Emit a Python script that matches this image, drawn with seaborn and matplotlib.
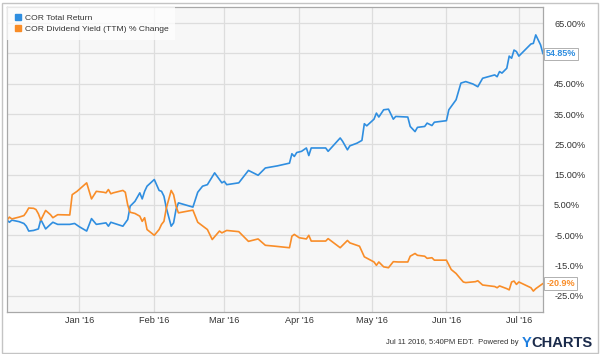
import pandas as pd
import matplotlib
matplotlib.use("Agg")
import matplotlib.pyplot as plt
from matplotlib.lines import Line2D
from matplotlib.patches import Rectangle
import seaborn as sns

# COR Total Return (%)
return_dates = [
    "2015-12-02", "2015-12-03", "2015-12-04", "2015-12-07", "2015-12-09", "2015-12-10",
    "2015-12-11", "2015-12-13", "2015-12-15", "2015-12-16", "2015-12-18", "2015-12-20",
    "2015-12-21", "2015-12-23", "2015-12-28", "2015-12-30", "2016-01-01", "2016-01-04",
    "2016-01-06", "2016-01-08", "2016-01-12", "2016-01-13", "2016-01-14", "2016-01-19",
    "2016-01-21", "2016-01-22", "2016-01-24", "2016-01-26", "2016-01-27", "2016-01-28",
    "2016-01-29", "2016-02-01", "2016-02-03", "2016-02-04", "2016-02-05", "2016-02-06",
    "2016-02-08", "2016-02-09", "2016-02-10", "2016-02-11", "2016-02-17", "2016-02-19",
    "2016-02-21", "2016-02-23", "2016-02-26", "2016-02-29", "2016-03-01", "2016-03-02",
    "2016-03-07", "2016-03-11", "2016-03-15", "2016-03-18", "2016-03-23", "2016-03-28",
    "2016-03-29", "2016-03-30", "2016-03-31", "2016-04-02", "2016-04-04", "2016-04-05",
    "2016-04-06", "2016-04-12", "2016-04-13", "2016-04-18", "2016-04-19", "2016-04-21",
    "2016-04-22", "2016-04-25", "2016-04-27", "2016-04-28", "2016-04-29", "2016-05-02",
    "2016-05-03", "2016-05-04", "2016-05-06", "2016-05-08", "2016-05-10", "2016-05-11",
    "2016-05-16", "2016-05-17", "2016-05-19", "2016-05-20", "2016-05-23", "2016-05-24",
    "2016-05-26", "2016-05-27", "2016-06-01", "2016-06-02", "2016-06-05", "2016-06-07",
    "2016-06-09", "2016-06-12", "2016-06-14", "2016-06-16", "2016-06-21", "2016-06-22",
    "2016-06-23", "2016-06-24", "2016-06-26", "2016-06-27", "2016-06-28", "2016-06-29",
    "2016-06-30", "2016-07-01", "2016-07-06", "2016-07-07", "2016-07-08", "2016-07-10",
    "2016-07-11",
]
return_pct = [
    0.0, -0.7, 0.0, -0.5, -1.1, -2.0,
    -3.6, -3.4, -2.9, 0.2, -2.9, -1.4,
    -0.7, -1.4, -1.4, -1.1, -2.2, -3.6,
    0.5, -1.4, -0.9, -2.0, -0.7, -2.0,
    0.2, 4.6, 6.2, 9.0, 7.0, 9.5,
    11.2, 13.4, 9.8, 9.5, 7.9, 4.0,
    -2.0, -0.9, 3.5, 5.7, 4.3, 9.2,
    11.2, 11.7, 15.6, 12.3, 12.8, 11.7,
    12.3, 16.4, 14.8, 17.2, 17.9, 18.8,
    21.9, 21.0, 22.3, 22.7, 23.8, 21.3,
    23.8, 23.8, 22.7, 27.1, 26.0, 23.2,
    24.5, 25.4, 26.3, 31.8, 31.1, 33.3,
    35.3, 34.0, 36.4, 36.6, 33.3, 34.2,
    34.0, 30.9, 29.2, 30.6, 30.9, 32.0,
    31.2, 32.3, 32.8, 36.4, 39.7, 45.2,
    45.7, 44.9, 44.0, 46.8, 47.9, 47.3,
    49.0, 48.5, 50.1, 54.1, 53.4, 56.1,
    55.6, 54.1, 58.1, 58.3, 61.1, 57.8,
    54.85,
]

# COR Dividend Yield (TTM) % Change
yield_dates = [
    "2015-12-02", "2015-12-03", "2015-12-04", "2015-12-07", "2015-12-09", "2015-12-10",
    "2015-12-11", "2015-12-13", "2015-12-14", "2015-12-15", "2015-12-16", "2015-12-18",
    "2015-12-20", "2015-12-21", "2015-12-23", "2015-12-28", "2015-12-29", "2015-12-31",
    "2016-01-04", "2016-01-06", "2016-01-08", "2016-01-11", "2016-01-12", "2016-01-13",
    "2016-01-14", "2016-01-15", "2016-01-19", "2016-01-20", "2016-01-21", "2016-01-22",
    "2016-01-24", "2016-01-26", "2016-01-27", "2016-01-28", "2016-01-29", "2016-02-01",
    "2016-02-03", "2016-02-04", "2016-02-05", "2016-02-06", "2016-02-08", "2016-02-09",
    "2016-02-10", "2016-02-11", "2016-02-17", "2016-02-19", "2016-02-23", "2016-02-25",
    "2016-02-28", "2016-02-29", "2016-03-02", "2016-03-07", "2016-03-11", "2016-03-15",
    "2016-03-18", "2016-03-22", "2016-03-28", "2016-03-29", "2016-03-30", "2016-04-01",
    "2016-04-04", "2016-04-05", "2016-04-06", "2016-04-12", "2016-04-13", "2016-04-18",
    "2016-04-21", "2016-04-22", "2016-04-26", "2016-04-28", "2016-05-02", "2016-05-03",
    "2016-05-04", "2016-05-06", "2016-05-08", "2016-05-10", "2016-05-12", "2016-05-16",
    "2016-05-17", "2016-05-19", "2016-05-20", "2016-05-23", "2016-05-24", "2016-05-26",
    "2016-05-27", "2016-06-01", "2016-06-03", "2016-06-05", "2016-06-07", "2016-06-08",
    "2016-06-09", "2016-06-13", "2016-06-14", "2016-06-16", "2016-06-21", "2016-06-22",
    "2016-06-23", "2016-06-26", "2016-06-27", "2016-06-28", "2016-06-29", "2016-06-30",
    "2016-07-01", "2016-07-06", "2016-07-07", "2016-07-08", "2016-07-11",
]
yield_pct = [
    0.0, 1.0, 0.4, 1.0, 1.5, 2.6,
    4.0, 3.9, 3.5, 2.1, 0.0, 3.2,
    1.8, 0.8, 1.8, 1.7, 8.4, 9.5,
    12.3, 7.0, 9.5, 9.2, 9.0, 10.1,
    8.7, 9.0, 9.8, 9.2, 5.0, 2.6,
    2.2, 1.3, -0.4, 0.8, -3.1, -5.0,
    -3.1, -1.4, -0.4, 4.0, 9.8, 8.4,
    4.6, 2.4, 3.3, -0.7, -3.1, -6.4,
    -3.6, -4.2, -3.4, -3.8, -7.0, -6.2,
    -8.3, -8.6, -9.1, -5.3, -4.7, -5.8,
    -6.2, -5.0, -6.9, -6.9, -6.1, -9.1,
    -6.7, -7.5, -8.6, -12.1, -13.8, -14.9,
    -13.8, -15.4, -15.7, -13.7, -13.8, -13.8,
    -11.9, -11.0, -11.6, -11.9, -12.6, -12.4,
    -13.2, -13.2, -16.3, -17.6, -19.5, -20.4,
    -20.6, -20.3, -20.0, -21.4, -21.9, -22.3,
    -21.7, -22.6, -23.0, -20.4, -20.1, -21.2,
    -20.4, -22.3, -23.4, -22.6, -20.9,
]

series_names = ["COR Total Return", "COR Dividend Yield (TTM) % Change"]
y_ticks = [-25, -15, -5, 5, 15, 25, 35, 45, 55, 65]
y_labels = ["-25.0%", "-15.0%", "-5.00%", "5.00%", "15.00%", "25.00%",
            "35.00%", "45.00%", "", "65.00%"]
month_ticks = ["2016-01-01", "2016-02-01", "2016-03-01", "2016-04-01",
               "2016-05-01", "2016-06-01", "2016-07-01"]
month_labels = ["Jan '16", "Feb '16", "Mar '16", "Apr '16", "May '16", "Jun '16", "Jul '16"]

BLUE = "#2f8ee0"
ORANGE = "#f98d28"

df = pd.concat([
    pd.DataFrame({"date": pd.to_datetime(return_dates), "value": return_pct,
                  "series": series_names[0]}),
    pd.DataFrame({"date": pd.to_datetime(yield_dates), "value": yield_pct,
                  "series": series_names[1]}),
], ignore_index=True)

sns.set_style("whitegrid", {"axes.facecolor": "#f7f7f7", "grid.color": "#dddddd",
                            "axes.edgecolor": "#a8a8a8"})
plt.rcParams["font.family"] = ["Liberation Sans", "DejaVu Sans"]

fig = plt.figure(figsize=(6, 3.54), dpi=100)
ax = fig.add_axes([7 / 600, 1 - 312 / 354, 536 / 600, 305 / 354])

sns.lineplot(data=df, x="date", y="value", hue="series",
             palette={series_names[0]: BLUE, series_names[1]: ORANGE},
             estimator=None, sort=False, linewidth=1.2, legend=False, ax=ax)

ax.set_xlim(df["date"].min(), df["date"].max())
ax.set_ylim(-30.3, 70.3)
ax.set_xlabel("")
ax.set_ylabel("")

ax.yaxis.tick_right()
ax.set_yticks(y_ticks)
ax.set_yticklabels(y_labels)
ax.set_xticks(pd.to_datetime(month_ticks))
ax.set_xticklabels(month_labels)
ax.tick_params(axis="y", length=0, pad=8, labelsize=6.6, labelcolor="#333333")
ax.tick_params(axis="x", length=0, pad=3, labelsize=6.6, labelcolor="#333333")
ax.grid(True, color="#dddddd", linewidth=0.9)
for sp in ax.spines.values():
    sp.set_visible(True)
    sp.set_color("#a8a8a8")
    sp.set_linewidth(0.9)

# end-of-line value tags
yax = ax.get_yaxis_transform()
ax.text(1.006, return_pct[-1], f"{return_pct[-1]:.2f}%", transform=yax,
        ha="left", va="center", fontsize=6.5, fontweight="bold", color=BLUE,
        bbox=dict(boxstyle="square,pad=0.2", facecolor="white", edgecolor="#b0b0b0", linewidth=0.7))
ax.text(1.006, yield_pct[-1], f"{yield_pct[-1]:.1f}%", transform=yax,
        ha="left", va="center", fontsize=6.5, fontweight="bold", color=ORANGE,
        bbox=dict(boxstyle="square,pad=0.2", facecolor="white", edgecolor="#b0b0b0", linewidth=0.7))

handles = [Line2D([], [], marker="s", linestyle="", color=BLUE, markersize=4.5, label=series_names[0]),
           Line2D([], [], marker="s", linestyle="", color=ORANGE, markersize=4.5, label=series_names[1])]
leg = ax.legend(handles=handles, loc="upper left", bbox_to_anchor=(0, 1), frameon=True,
                facecolor="white", framealpha=0.75, edgecolor="none", fancybox=False,
                fontsize=6.1, handletextpad=0.3, borderpad=0.8, labelspacing=0.4,
                handlelength=1.0, borderaxespad=0.0)
for t in leg.get_texts():
    t.set_color("#333333")

# footer
fig.text(519 / 600, 1 - 343 / 354, "Jul 11 2016, 5:40PM EDT.  Powered by",
         ha="right", va="center", fontsize=5.5, color="#333333")
y_txt = fig.text(522 / 600, 1 - 347 / 354, "Y", ha="left", va="baseline",
                 fontsize=10.6, fontweight="bold", color="#1f7fe0")
ax.annotate("CHARTS", xy=(1, 0), xycoords=y_txt, ha="left", va="bottom",
            fontsize=10.6, fontweight="bold", color="#1b2b4b", annotation_clip=False)

fig.patches.append(Rectangle((1.5 / 600, 1.5 / 354), 596 / 600, 350 / 354,
                             transform=fig.transFigure, fill=False,
                             edgecolor="#c4c4c4", linewidth=1.0))

fig.savefig("out.png", dpi=100)
